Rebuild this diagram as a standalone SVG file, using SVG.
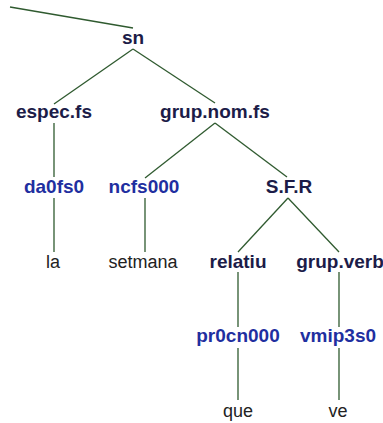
<svg xmlns="http://www.w3.org/2000/svg" width="383" height="423" viewBox="0 0 383 423">
<style>
.e{stroke:#2f5a2f;stroke-width:1.3;fill:none}
text{font-family:"Liberation Sans",Arial,sans-serif;text-anchor:middle}
.c{font-weight:bold;font-size:19px;fill:#1c1c48}
.t{font-weight:bold;font-size:19px;fill:#1f2fa0}
.w{font-size:18px;fill:#222}
</style>
<rect width="383" height="423" fill="#fff"/>
<g id="connectors">
<line class="e" x1="10" y1="7" x2="133" y2="28"/>
<line class="e" x1="133" y1="49" x2="54" y2="104"/>
<line class="e" x1="133" y1="49" x2="215" y2="103"/>
<line class="e" x1="54" y1="123" x2="54" y2="177"/>
<line class="e" x1="215" y1="123" x2="145" y2="178"/>
<line class="e" x1="215" y1="123" x2="287" y2="177"/>
<line class="e" x1="54" y1="198" x2="54" y2="252"/>
<line class="e" x1="145" y1="198" x2="145" y2="252"/>
<line class="e" x1="288" y1="198" x2="238" y2="252"/>
<line class="e" x1="288" y1="198" x2="339" y2="252"/>
<line class="e" x1="238" y1="272" x2="238" y2="327"/>
<line class="e" x1="339" y1="272" x2="339" y2="327"/>
<line class="e" x1="238" y1="348" x2="238" y2="400"/>
<line class="e" x1="339" y1="348" x2="339" y2="400"/>
</g>
<g id="sn"><text class="c" x="133" y="44">sn</text></g>
<g id="espec"><text class="c" x="54" y="118">espec.fs</text></g>
<g id="grupnom"><text class="c" x="215" y="118">grup.nom.fs</text></g>
<g id="da0fs0"><text class="t" x="54" y="193">da0fs0</text></g>
<g id="ncfs000"><text class="t" x="144" y="193">ncfs000</text></g>
<g id="sfr"><text class="c" x="289" y="193">S.F.R</text></g>
<g id="la"><text class="w" x="53" y="268">la</text></g>
<g id="setmana"><text class="w" x="143" y="268">setmana</text></g>
<g id="relatiu"><text class="c" x="238" y="268">relatiu</text></g>
<g id="grupverb"><text class="c" x="340" y="268">grup.verb</text></g>
<g id="pr0cn000"><text class="t" x="238" y="342">pr0cn000</text></g>
<g id="vmip3s0"><text class="t" x="338" y="342">vmip3s0</text></g>
<g id="que"><text class="w" x="238" y="417">que</text></g>
<g id="ve"><text class="w" x="338" y="417">ve</text></g>
</svg>
